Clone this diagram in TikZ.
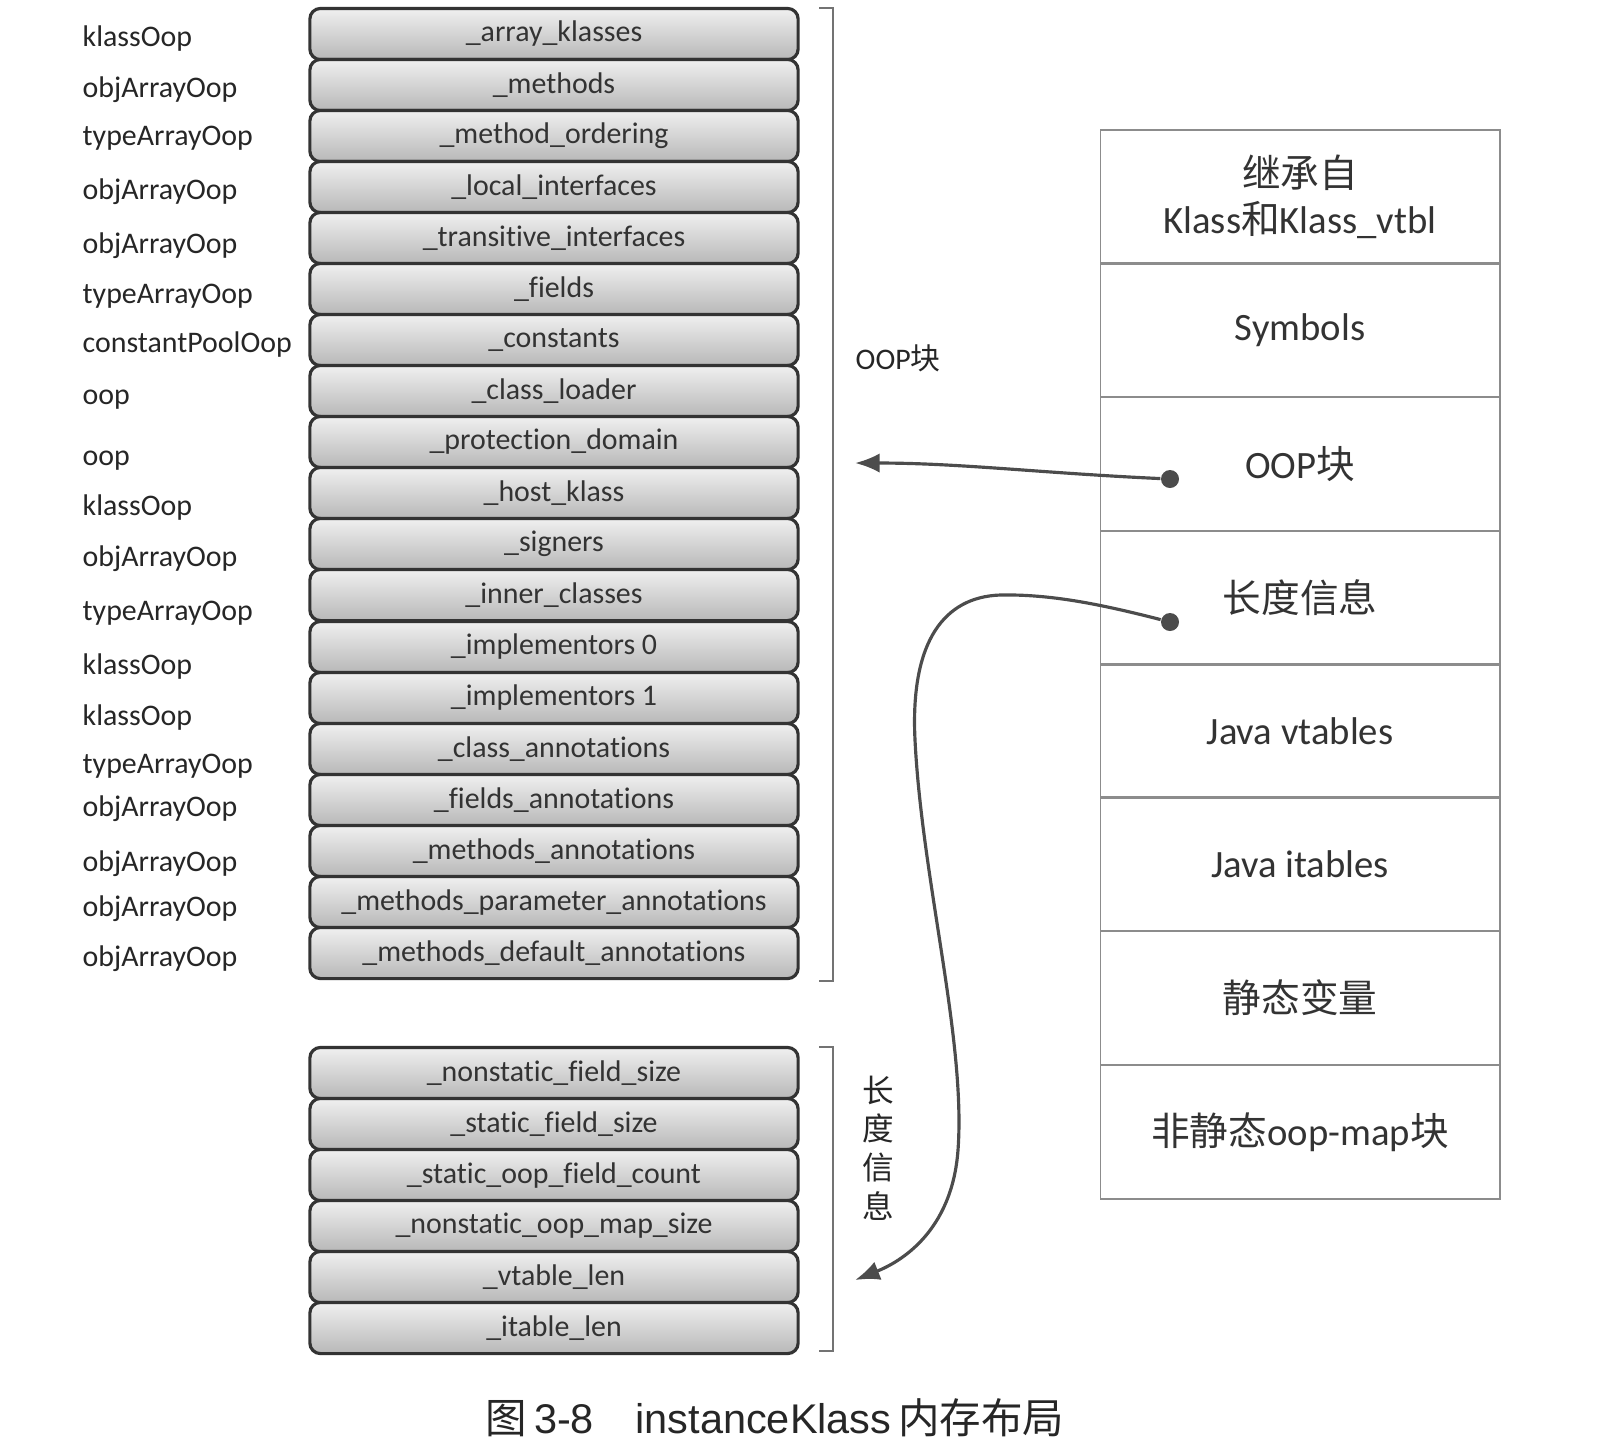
\documentclass[tikz,border=0pt]{standalone}
\usepackage{fontspec}
\setmainfont{Carlito}[Ligatures={NoCommon}]
\newfontfamily\cjk{Noto Sans CJK SC}
\newfontfamily\capfont{Liberation Sans}
\usetikzlibrary{arrows.meta,positioning,calc}

\begin{document}
\begin{tikzpicture}[x=0.01cm, y=-0.01cm,
    field/.style={draw=black!80, line width=0.9pt, rounded corners=3pt, minimum width=4.88cm, minimum height=0.511cm, inner sep=0pt, top color=black!6, bottom color=black!28, text=black!80, font=\fontsize{8.5}{10}\selectfont},
    typ/.style={anchor=west, inner sep=0pt, text=black!85, font=\fontsize{8.5}{10}\selectfont},
    cell/.style={draw=black!45, line width=0.5pt, minimum width=3.99cm, minimum height=1.336cm, align=center, text=black!80, font=\fontsize{11}{13}\selectfont},
    dot/.style={circle, fill=black!70, inner sep=0pt, minimum size=0.18cm},
    arr/.style={-{Latex[length=7pt, width=5.5pt]}, line width=0.9pt, draw=black!70},
    brk/.style={draw=black!55, line width=0.6pt},
    lbl/.style={inner sep=0pt, text=black!85, font=\fontsize{8.5}{10}\selectfont}
]
\useasboundingbox (0,0) rectangle (1616,1438);

% OOP fields
\node[field] (f1) at (554,34) {\_array\_klasses};
\node[field] (f2) at (554,85) {\_methods};
\node[field] (f3) at (554,136) {\_method\_ordering};
\node[field] (f4) at (554,187) {\_local\_interfaces};
\node[field] (f5) at (554,238) {\_transitive\_interfaces};
\node[field] (f6) at (554,289) {\_fields};
\node[field] (f7) at (554,340) {\_constants};
\node[field] (f8) at (554,391) {\_class\_loader};
\node[field] (f9) at (554,442) {\_protection\_domain};
\node[field] (f10) at (554,493) {\_host\_klass};
\node[field] (f11) at (554,544) {\_signers};
\node[field] (f12) at (554,595) {\_inner\_classes};
\node[field] (f13) at (554,647) {\_implementors 0};
\node[field] (f14) at (554,698) {\_implementors 1};
\node[field] (f15) at (554,749) {\_class\_annotations};
\node[field] (f16) at (554,800) {\_fields\_annotations};
\node[field] (f17) at (554,851) {\_methods\_annotations};
\node[field] (f18) at (554,902) {\_methods\_parameter\_annotations};
\node[field] (f19) at (554,953) {\_methods\_default\_annotations};

% types
\node[typ] (t1) at (82,39) {klassOop};
\node[typ] (t2) at (82,90) {objArrayOop};
\node[typ] (t3) at (82,138) {typeArrayOop};
\node[typ] (t4) at (82,192) {objArrayOop};
\node[typ] (t5) at (82,246) {objArrayOop};
\node[typ] (t6) at (82,296) {typeArrayOop};
\node[typ] (t7) at (82,345) {constantPoolOop};
\node[typ] (t8) at (82,400) {oop};
\node[typ] (t9) at (82,461) {oop};
\node[typ] (t10) at (82,508) {klassOop};
\node[typ] (t11) at (82,559) {objArrayOop};
\node[typ] (t12) at (82,613) {typeArrayOop};
\node[typ] (t13) at (82,667) {klassOop};
\node[typ] (t14) at (82,718) {klassOop};
\node[typ] (t15) at (82,766) {typeArrayOop};
\node[typ] (t16) at (82,809) {objArrayOop};
\node[typ] (t17) at (82,864) {objArrayOop};
\node[typ] (t18) at (82,909) {objArrayOop};
\node[typ] (t19) at (82,959) {objArrayOop};

% length fields
\node[field] (g1) at (554,1073) {\_nonstatic\_field\_size};
\node[field] (g2) at (554,1124) {\_static\_field\_size};
\node[field] (g3) at (554,1175) {\_static\_oop\_field\_count};
\node[field] (g4) at (554,1226) {\_nonstatic\_oop\_map\_size};
\node[field] (g5) at (554,1277) {\_vtable\_len};
\node[field] (g6) at (554,1328) {\_itable\_len};

% brackets
\draw[brk] (819,8) -- (833,8) -- (833,981) -- (819,981);
\draw[brk] (819,1047) -- (833,1047) -- (833,1351) -- (819,1351);
\node[lbl, anchor=west] (oopblk) at (855,358) {OOP{\cjk 块}};
\node[lbl, align=center, font=\cjk\fontsize{9}{11}\selectfont] (lenblk) at (878,1148) {长\\度\\信\\息};

% instanceKlass layout
\node[cell] (c1) at (1300,197) {{\cjk 继承自}\\Klass{\cjk 和}Klass\_vtbl};
\node[cell] (c2) at (1300,330) {Symbols};
\node[cell] (c3) at (1300,464) {OOP{\cjk 块}};
\node[cell] (c4) at (1300,598) {{\cjk 长度信息}};
\node[cell] (c5) at (1300,731) {Java vtables};
\node[cell] (c6) at (1300,864) {Java itables};
\node[cell] (c7) at (1300,998) {{\cjk 静态变量}};
\node[cell] (c8) at (1300,1132) {{\cjk 非静态}oop-map{\cjk 块}};

\node[dot] (d1) at (1170,479) {};
\node[dot] (d2) at (1170,622) {};
\coordinate (tip1) at (855,463);
\coordinate (tip2) at (855,1280);

\draw[arr] (d1) .. controls (1040,473) and (960,463) .. (tip1);
\draw[arr] (d2) .. controls (1100,604) and (1050,594) .. (1000,595)
    .. controls (945,597) and (910,640) .. (915,740)
    .. controls (922,880) and (966,1040) .. (958,1150)
    .. controls (952,1232) and (900,1262) .. (tip2);

\node[inner sep=0pt, text=black!85, font=\fontsize{11.8}{13}\selectfont] (cap) at (775,1418)
    {{\cjk 图}\,{\capfont 3-8}\hspace{1em}{\capfont instanceKlass}\,{\cjk 内存布局}};
\end{tikzpicture}
\end{document}
